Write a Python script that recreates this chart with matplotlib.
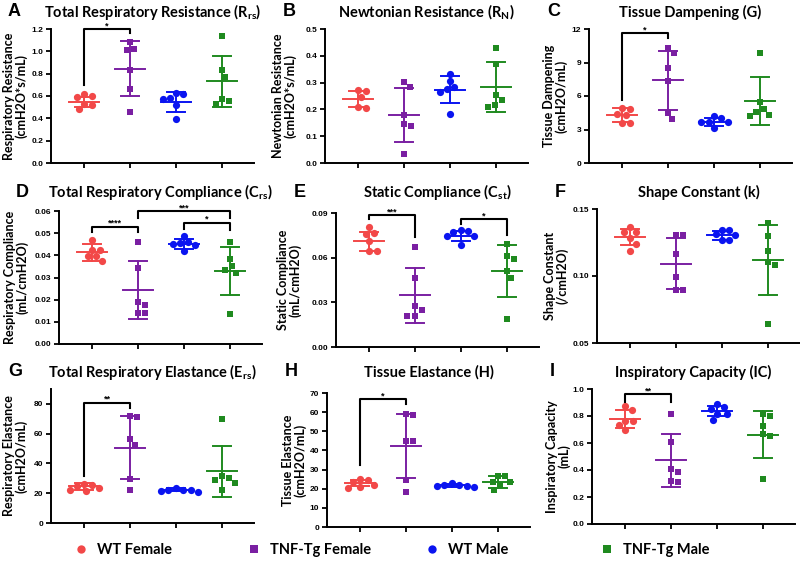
import numpy as np
import matplotlib
matplotlib.use('Agg')
import matplotlib.pyplot as plt
from matplotlib.lines import Line2D

# group order: WT Female, TNF-Tg Female, WT Male, TNF-Tg Male
groups = ["WT Female", "TNF-Tg Female", "WT Male", "TNF-Tg Male"]
colors = ["#f24848", "#7a1fa2", "#0a14f0", "#1f8a1f"]
markers = ["o", "s", "o", "s"]

# A - total respiratory resistance
rrs_pts = [[0.62, 0.60, 0.59, 0.53, 0.52, 0.48],
           [1.08, 1.025, 1.01, 0.83, 0.66, 0.455],
           [0.63, 0.615, 0.58, 0.57, 0.52, 0.39],
           [1.135, 0.83, 0.77, 0.575, 0.555, 0.525]]
rrs_mean = [0.544, 0.845, 0.545, 0.73]
rrs_sd = [0.045, 0.245, 0.088, 0.23]

# B - newtonian resistance
rn_pts = [[0.271, 0.27, 0.245, 0.209, 0.205],
          [0.301, 0.284, 0.18, 0.147, 0.139, 0.034],
          [0.333, 0.305, 0.282, 0.276, 0.264, 0.183],
          [0.429, 0.371, 0.252, 0.234, 0.218, 0.208]]
rn_mean = [0.239, 0.18, 0.273, 0.285]
rn_sd = [0.031, 0.10, 0.05, 0.093]

# C - tissue dampening
g_pts = [[4.9, 4.88, 4.4, 4.3, 3.58, 3.58],
         [10.27, 9.88, 8.48, 7.38, 4.52, 3.93],
         [4.2, 4.0, 3.68, 3.65, 3.63, 3.15],
         [9.82, 5.42, 4.85, 4.61, 4.32, 4.23]]
g_mean = [4.32, 7.4, 3.66, 5.55]
g_sd = [0.63, 2.65, 0.37, 2.15]

# D - total respiratory compliance
crs_pts = [[0.0468, 0.0426, 0.0426, 0.0396, 0.0395, 0.0375],
           [0.046, 0.0343, 0.019, 0.0178, 0.0138, 0.0138],
           [0.0486, 0.0458, 0.0455, 0.0452, 0.0445, 0.042],
           [0.0458, 0.0383, 0.035, 0.0336, 0.0321, 0.0135]]
crs_mean = [0.0413, 0.0243, 0.0452, 0.033]
crs_sd = [0.0038, 0.013, 0.0022, 0.0108]

# E - static compliance
cst_pts = [[0.0806, 0.0765, 0.076, 0.0715, 0.0644, 0.0644],
           [0.0675, 0.0463, 0.0275, 0.025, 0.0208, 0.0208],
           [0.0783, 0.0779, 0.0772, 0.0745, 0.0745, 0.0687],
           [0.0694, 0.0609, 0.0588, 0.051, 0.0466, 0.019]]
cst_mean = [0.0709, 0.0347, 0.0745, 0.051]
cst_sd = [0.0063, 0.0186, 0.0035, 0.0172]

# F - shape constant
k_pts = [[0.1365, 0.133, 0.1328, 0.128, 0.124, 0.119],
         [0.1303, 0.1303, 0.1167, 0.0993, 0.0898, 0.0898],
         [0.1345, 0.134, 0.131, 0.1303, 0.127, 0.1265],
         [0.1396, 0.1296, 0.1184, 0.1102, 0.1082, 0.0644]]
k_mean = [0.1289, 0.1092, 0.1303, 0.1117]
k_sd = [0.006, 0.0192, 0.0031, 0.026]

# G - total respiratory elastance
ers_pts = [[26.4, 25.8, 24.8, 23.7, 22.5, 21.5],
           [72.2, 71.5, 56.5, 52.5, 29.5, 21.9],
           [23.5, 22.5, 22.3, 22.0, 21.8, 20.9],
           [69.7, 31.7, 30.2, 29.1, 26.8, 21.9]]
ers_mean = [24.6, 50.7, 22.3, 34.7]
ers_sd = [2.2, 21.0, 0.9, 17.3]

# H - tissue elastance
h_pts = [[25.0, 24.3, 23.3, 22.0, 21.0, 20.5],
         [59.2, 58.7, 44.7, 44.7, 24.7, 18.1],
         [22.9, 22.2, 21.9, 21.6, 21.2, 20.9],
         [26.8, 26.5, 23.7, 23.5, 21.9, 19.4]]
h_mean = [23.0, 42.1, 21.8, 23.5]
h_sd = [1.5, 16.7, 0.8, 2.9]

# I - inspiratory capacity
ic_pts = [[0.872, 0.842, 0.765, 0.76, 0.736, 0.699],
          [0.815, 0.605, 0.407, 0.385, 0.321, 0.311],
          [0.891, 0.867, 0.852, 0.815, 0.815, 0.77],
          [0.817, 0.798, 0.728, 0.667, 0.649, 0.333]]
ic_mean = [0.778, 0.472, 0.835, 0.662]
ic_sd = [0.065, 0.198, 0.037, 0.176]

# significance brackets: (group a, group b, left leg y, top y, right leg y, stars)
rrs_sig = [(0, 1, 0.70, 1.20, 1.16, "*")]
g_sig = [(0, 1, 5.65, 11.6, 11.15, "*")]
crs_sig = [(0, 1, 0.0505, 0.053, 0.0505, "****"),
           (1, 3, 0.057, 0.060, 0.057, "***"),
           (2, 3, 0.052, 0.0548, 0.0515, "*")]
cst_sig = [(0, 1, 0.0857, 0.0888, 0.0738, "***"),
           (2, 3, 0.0828, 0.0857, 0.075, "*")]
ers_sig = [(0, 1, 31.7, 80.9, 77.5, "**")]
h_sig = [(0, 1, 32.6, 67.0, 64.3, "*")]
ic_sig = [(0, 1, 0.904, 0.963, 0.904, "**")]

TITLE_FONT = ["Lato", "DejaVu Sans"]
TICK_FONT = ["Liberation Sans", "DejaVu Sans"]
W, H = 800, 563
AX_W = 203

panels = [
    # letter, title, ylabel, pts, mean, sd, sig, ylim, yticks, fmt, left, top, bottom, label_x, title_y
    ("A", "Total Respiratory Resistance (R$_\\mathregular{rs}$)", "Respiratory Resistance\n(cmH2O*s/mL)",
     rrs_pts, rrs_mean, rrs_sd, rrs_sig, (0, 1.2), np.arange(0, 1.21, 0.2), "%.1f", 51, 29, 163, 15, 12),
    ("B", "Newtonian Resistance (R$_\\mathregular{N}$)", "Newtonian Resistance\n(cmH2O*s/mL)",
     rn_pts, rn_mean, rn_sd, [], (0, 0.5), np.arange(0, 0.51, 0.1), "%.1f", 325, 29, 163, 284, 12),
    ("C", "Tissue Dampening (G)", "Tissue Dampening\n(cmH2O/mL)",
     g_pts, g_mean, g_sd, g_sig, (0, 12), np.arange(0, 13, 3), "%d", 589, 29, 163, 555, 12),
    ("D", "Total Respiratory Compliance (C$_\\mathregular{rs}$)", "Respiratory Compliance\n(mL/cmH2O)",
     crs_pts, crs_mean, crs_sd, crs_sig, (0, 0.06), np.arange(0, 0.061, 0.01), "%.2f", 59, 211, 344, 16, 192),
    ("E", "Static Compliance (C$_\\mathregular{st}$)", "Static Compliance\n(mL/cmH2O)",
     cst_pts, cst_mean, cst_sd, cst_sig, (0, 0.09), np.arange(0, 0.091, 0.03), "%.2f", 336, 213, 347, 289, 192),
    ("F", "Shape Constant (k)", "Shape Constant\n(/cmH2O)",
     k_pts, k_mean, k_sd, [], (0.05, 0.15), np.arange(0.05, 0.151, 0.05), "%.2f", 597, 209, 343, 556, 192),
    ("G", "Total Respiratory Elastance (E$_\\mathregular{rs}$)", "Respiratory Elastance\n(cmH2O/mL)",
     ers_pts, ers_mean, ers_sd, ers_sig, (0, 90), np.arange(0, 81, 20), "%d", 51, 389, 523, 15, 372),
    ("H", "Tissue Elastance (H)", "Tissue Elastance\n(cmH2O/mL)",
     h_pts, h_mean, h_sd, h_sig, (0, 70), np.arange(0, 71, 10), "%d", 327, 393, 527, 294, 372),
    ("I", "Inspiratory Capacity (IC)", "Inspiratory Capacity\n(mL)",
     ic_pts, ic_mean, ic_sd, ic_sig, (0, 1.0), np.arange(0, 1.01, 0.2), "%.1f", 592, 389, 524, 558, 372),
]

XLIM = (0.28, 4.7)


def swarm_offsets(vals, px_per_y, px_per_x, d=7.5):
    # simple beeswarm: place each point as close to centre as possible
    order = np.argsort(vals)[::-1]
    placed = []
    offs = np.zeros(len(vals))
    cands = [0.0]
    for s in np.arange(0.5, 30, 0.5):
        cands += [s, -s]
    for i in order:
        y = vals[i] * px_per_y
        for c in cands:
            if all((c - px) ** 2 + (y - py) ** 2 >= d ** 2 for px, py in placed):
                placed.append((c, y))
                offs[i] = c / px_per_x
                break
    return offs


fig = plt.figure(figsize=(W / 100, H / 100), dpi=100)

for (letter, title, ylabel, pts, mean, sd, sig, ylim, yticks, fmt,
     left, top, bottom, lab_x, title_y) in panels:
    ax = fig.add_axes([left / W, 1 - bottom / H, AX_W / W, (bottom - top) / H])
    ax.set_xlim(*XLIM)
    ax.set_ylim(*ylim)
    px_per_x = AX_W / (XLIM[1] - XLIM[0])
    px_per_y = (bottom - top) / (ylim[1] - ylim[0])

    for gi in range(4):
        xc = gi + 1
        vals = np.array(pts[gi])
        offs = swarm_offsets(vals, px_per_y, px_per_x)
        ax.plot(xc + offs, vals, linestyle="none", marker=markers[gi],
                color=colors[gi], markersize=5.2 if markers[gi] == "o" else 4.8,
                markeredgewidth=0, zorder=3, clip_on=False)
        m, s = mean[gi], sd[gi]
        ax.plot([xc - 0.32, xc + 0.32], [m, m], color=colors[gi], lw=1.4, zorder=4)
        ax.plot([xc, xc], [m - s, m + s], color=colors[gi], lw=1.4, zorder=4)
        for yy in (m - s, m + s):
            ax.plot([xc - 0.2, xc + 0.2], [yy, yy], color=colors[gi], lw=1.4, zorder=4)

    for a, b, ya, ytop, yb, stars in sig:
        xa, xb = a + 1, b + 1
        ax.plot([xa, xa, xb, xb], [ya, ytop, ytop, yb], color="black", lw=1.5,
                clip_on=False, zorder=5)
        ax.annotate(stars, xy=((xa + xb) / 2, ytop), xytext=(0, 2.2),
                    textcoords="offset points", ha="center", va="center",
                    fontsize=6.5, fontweight="bold", family=TICK_FONT,
                    annotation_clip=False)

    for sp in ("top", "right"):
        ax.spines[sp].set_visible(False)
    for sp in ("left", "bottom"):
        ax.spines[sp].set_linewidth(1.4)
    ax.set_xticks([1, 2, 3, 4])
    ax.set_xticklabels([])
    ax.set_yticks(yticks)
    ax.set_yticklabels([fmt % v for v in yticks], fontsize=6, fontweight="bold",
                       family=TICK_FONT)
    ax.tick_params(axis="both", direction="out", width=1.3, length=3.5, pad=2)

    cx = (left + AX_W / 2) / W
    fig.text(cx, 1 - title_y / H, title, ha="center", va="center", fontsize=10.5,
             fontweight="bold", family=TITLE_FONT)
    fig.text((left - 43) / W if left < 100 else (left - 42) / W, 1 - title_y / H, letter,
             ha="left", va="center", fontsize=13, fontweight="bold", family=TICK_FONT)
    fig.text(lab_x / W, 1 - (top + bottom) / 2 / H, ylabel, rotation=90, ha="center",
             va="center", fontsize=9, fontweight="bold", family=TITLE_FONT,
             linespacing=0.95)

# legend along the bottom
leg_x = [78, 251, 429, 604]
for gi in range(4):
    h = Line2D([], [], linestyle="none", marker=markers[gi], color=colors[gi],
               markersize=6, markeredgewidth=0)
    fig.legend([h], [groups[gi]], loc="center left",
               bbox_to_anchor=((leg_x[gi] - 12) / W, 1 - 550 / H), frameon=False,
               handlelength=1.0, handletextpad=0.6, borderpad=0,
               prop={"family": TITLE_FONT, "weight": "bold", "size": 10.5})

fig.savefig("out.png", dpi=100)
